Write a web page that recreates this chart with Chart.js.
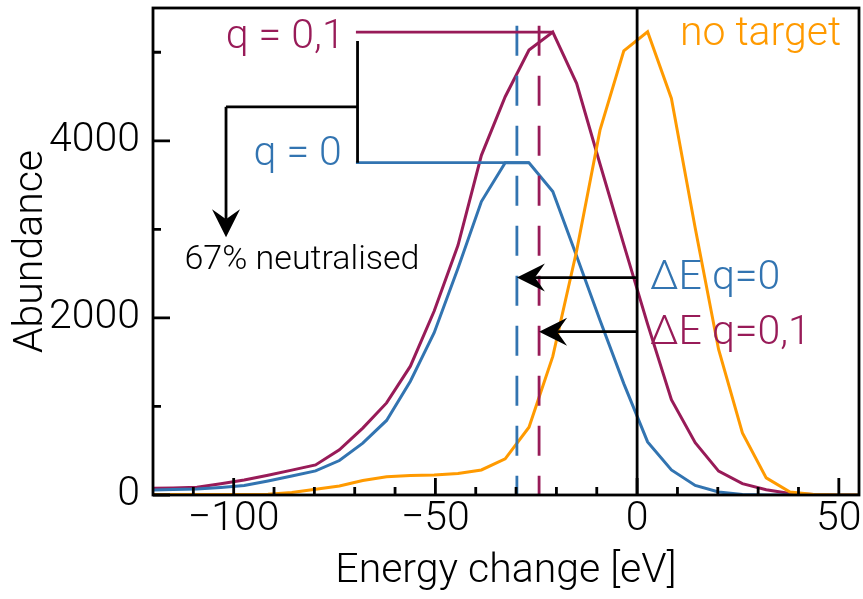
<!DOCTYPE html>
<html>
<head>
<meta charset="utf-8">
<script src="https://cdn.jsdelivr.net/npm/chart.js@4.4.1/dist/chart.umd.min.js"></script>
<style>
  html, body { margin: 0; padding: 0; background: #fff; }
  canvas { display: block; }
</style>
</head>
<body>
<canvas id="chart" width="863" height="599"></canvas>
<script>
// energy change of each bin [eV]
const energy = [-120.9, -115.0, -109.1, -103.2, -97.4, -91.5, -85.6, -79.7, -73.8, -68.0,
  -62.1, -56.2, -50.3, -44.4, -38.6, -32.7, -26.8, -20.9, -15.0, -9.2,
  -3.3, 2.6, 8.5, 14.4, 20.2, 26.1, 32.0, 37.9, 43.8, 49.6, 55.5];

const abundanceQ01 = [76, 80, 87, 126, 170, 223, 281, 340, 510, 756,
  1040, 1455, 2078, 2820, 3836, 4498, 5026, 5227, 4649, 3738,
  2828, 1930, 1077, 590, 270, 128, 60, 17, 5, 0, 0];

const abundanceQ0 = [57, 62, 68, 85, 107, 158, 214, 272, 389, 586,
  842, 1285, 1833, 2560, 3314, 3753, 3753, 3427, 2700, 1973,
  1258, 600, 283, 108, 34, 6, 0, 0, 0, 0, 0];

const abundanceNoTarget = [5, 5, 5, 5, 5, 8, 28, 65, 102, 164,
  207, 219, 227, 244, 283, 408, 765, 1565, 2755, 4121,
  5017, 5232, 4478, 3016, 1644, 700, 193, 34, 6, 0, 0];

const xTicks = [-100, -50, 0, 50];
const xMinorTicks = [-110, -90, -80, -70, -60, -40, -30, -20, -10, 10, 20, 30, 40];
const yTicks = [0, 2000, 4000];
const yMinorTicks = [1000, 3000, 5000];

// mean energy loss of each group
const deltaEQ0 = -29.8;
const deltaEQ01 = -24.3;

const BLUE = '#3274b1';
const PURPLE = '#981b58';
const ORANGE = '#ff9a00';
const FONT = 'Roboto, "Liberation Sans", Arial, sans-serif';

Chart.defaults.font.family = FONT;
Chart.defaults.font.weight = 300;
Chart.defaults.color = '#000';

function toPoints(ys) {
  return energy.map((e, i) => ({x: e, y: ys[i]}));
}

function minus(v) {
  return v < 0 ? '\u2212' + Math.abs(v) : String(v);
}

function arrowHead(ctx, tx, ty, angle) {
  ctx.save();
  ctx.translate(tx, ty);
  ctx.rotate(angle);
  ctx.beginPath();
  ctx.moveTo(0, 0);
  ctx.lineTo(-28, -14);
  ctx.quadraticCurveTo(-21, -4, -18, 0);
  ctx.quadraticCurveTo(-21, 4, -28, 14);
  ctx.closePath();
  ctx.fill();
  ctx.restore();
}

function arrow(ctx, x0, y0, x1, y1) {
  const ang = Math.atan2(y1 - y0, x1 - x0);
  ctx.beginPath();
  ctx.moveTo(x0, y0);
  ctx.lineTo(x1 - 18 * Math.cos(ang), y1 - 18 * Math.sin(ang));
  ctx.stroke();
  arrowHead(ctx, x1, y1, ang);
}

const decorations = {
  id: 'decorations',
  afterDatasetsDraw(chart) {
    const {ctx, chartArea: a, scales: {x, y}} = chart;
    const px = v => x.getPixelForValue(v);
    const py = v => y.getPixelForValue(v);
    const peakQ01 = Math.max(...abundanceQ01);
    const peakQ0 = Math.max(...abundanceQ0);
    const peakQ01E = energy[abundanceQ01.indexOf(peakQ01)];
    const peakQ0E = energy[abundanceQ0.lastIndexOf(peakQ0)];

    ctx.save();
    ctx.lineWidth = 2.8;
    ctx.lineCap = 'butt';

    // dashed lines at the mean energy loss
    ctx.setLineDash([30, 20]);
    ctx.strokeStyle = BLUE;
    ctx.beginPath();
    ctx.moveTo(px(deltaEQ0), py(5300));
    ctx.lineTo(px(deltaEQ0), a.bottom);
    ctx.stroke();
    ctx.strokeStyle = PURPLE;
    ctx.beginPath();
    ctx.moveTo(px(deltaEQ01), py(5300));
    ctx.lineTo(px(deltaEQ01), a.bottom);
    ctx.stroke();
    ctx.setLineDash([]);

    // peak heights
    ctx.strokeStyle = PURPLE;
    ctx.beginPath();
    ctx.moveTo(px(-69.7), py(peakQ01));
    ctx.lineTo(px(peakQ01E), py(peakQ01));
    ctx.stroke();
    ctx.strokeStyle = BLUE;
    ctx.beginPath();
    ctx.moveTo(px(-69.7), py(peakQ0));
    ctx.lineTo(px(peakQ0E), py(peakQ0));
    ctx.stroke();

    // bracket and arrow to the label
    ctx.strokeStyle = '#000';
    ctx.fillStyle = '#000';
    ctx.beginPath();
    ctx.moveTo(px(-69.3), py(5128));
    ctx.lineTo(px(-69.3), py(peakQ0));
    ctx.moveTo(px(-69.3), py(4384));
    ctx.lineTo(px(-101.9), py(4384));
    ctx.stroke();
    arrow(ctx, px(-101.9), py(4384), px(-101.9), py(2910));

    // zero line and delta E arrows
    ctx.beginPath();
    ctx.moveTo(px(0), a.top);
    ctx.lineTo(px(0), a.bottom);
    ctx.stroke();
    arrow(ctx, px(0), py(2456), px(deltaEQ0), py(2456));
    arrow(ctx, px(0), py(1844), px(deltaEQ01), py(1844));

    // frame and inward ticks
    ctx.strokeRect(a.left, a.top, a.right - a.left, a.bottom - a.top);
    ctx.beginPath();
    xTicks.forEach(v => { ctx.moveTo(px(v), a.bottom); ctx.lineTo(px(v), a.bottom - 17); });
    xMinorTicks.forEach(v => { ctx.moveTo(px(v), a.bottom); ctx.lineTo(px(v), a.bottom - 8); });
    yTicks.forEach(v => { ctx.moveTo(a.left, py(v)); ctx.lineTo(a.left + 17, py(v)); });
    yMinorTicks.forEach(v => { ctx.moveTo(a.left, py(v)); ctx.lineTo(a.left + 8, py(v)); });
    ctx.stroke();

    // labels
    ctx.textBaseline = 'alphabetic';
    ctx.font = '300 41px ' + FONT;
    ctx.textAlign = 'right';
    ctx.fillStyle = PURPLE;
    ctx.fillText('q = 0,1', px(-72.5), py(5053));
    ctx.fillStyle = BLUE;
    ctx.fillText('q = 0', px(-73.2), py(3722));
    ctx.textAlign = 'left';
    ctx.fillStyle = ORANGE;
    ctx.fillText('no target', px(10.6), py(5082));
    ctx.fillStyle = BLUE;
    ctx.fillText('\u0394E q=0', px(3.2), py(2324));
    ctx.fillStyle = PURPLE;
    ctx.fillText('\u0394E q=0,1', px(3.2), py(1701));
    ctx.font = '300 34px ' + FONT;
    ctx.fillStyle = '#000';
    ctx.fillText('67% neutralised', px(-112.2), py(2551));
    ctx.restore();
  }
};

new Chart(document.getElementById('chart'), {
  type: 'line',
  data: {
    datasets: [
      {label: 'no target', data: toPoints(abundanceNoTarget), borderColor: ORANGE},
      {label: 'q = 0', data: toPoints(abundanceQ0), borderColor: BLUE},
      {label: 'q = 0,1', data: toPoints(abundanceQ01), borderColor: PURPLE}
    ]
  },
  options: {
    responsive: false,
    animation: false,
    events: [],
    layout: {padding: {left: 0, right: 4, top: 8, bottom: 0}},
    elements: {
      line: {borderWidth: 3, tension: 0, fill: false},
      point: {radius: 0}
    },
    plugins: {
      legend: {display: false},
      tooltip: {enabled: false}
    },
    scales: {
      x: {
        type: 'linear',
        min: -120,
        max: 55,
        grid: {display: false, drawTicks: false},
        border: {display: false},
        afterBuildTicks: s => { s.ticks = xTicks.map(v => ({value: v})); },
        afterFit: s => { s.height = 104; s.paddingLeft = 0; s.paddingRight = 0; },
        ticks: {
          font: {size: 41, weight: 300},
          padding: 0,
          maxRotation: 0,
          autoSkip: false,
          callback: v => minus(v)
        },
        title: {
          display: true,
          text: 'Energy change [eV]',
          font: {size: 41, weight: 300},
          padding: {top: 0, bottom: 3}
        }
      },
      y: {
        type: 'linear',
        min: 0,
        max: 5500,
        grid: {display: false, drawTicks: false},
        border: {display: false},
        afterBuildTicks: s => { s.ticks = yTicks.map(v => ({value: v})); },
        afterFit: s => { s.width = 153; s.paddingTop = 0; s.paddingBottom = 0; },
        ticks: {
          font: {size: 41, weight: 300},
          padding: 13,
          autoSkip: false,
          callback: v => minus(v)
        },
        title: {
          display: true,
          text: 'Abundance',
          font: {size: 41, weight: 300},
          padding: {top: 7, bottom: 0}
        }
      }
    }
  },
  plugins: [decorations]
});
</script>
</body>
</html>
